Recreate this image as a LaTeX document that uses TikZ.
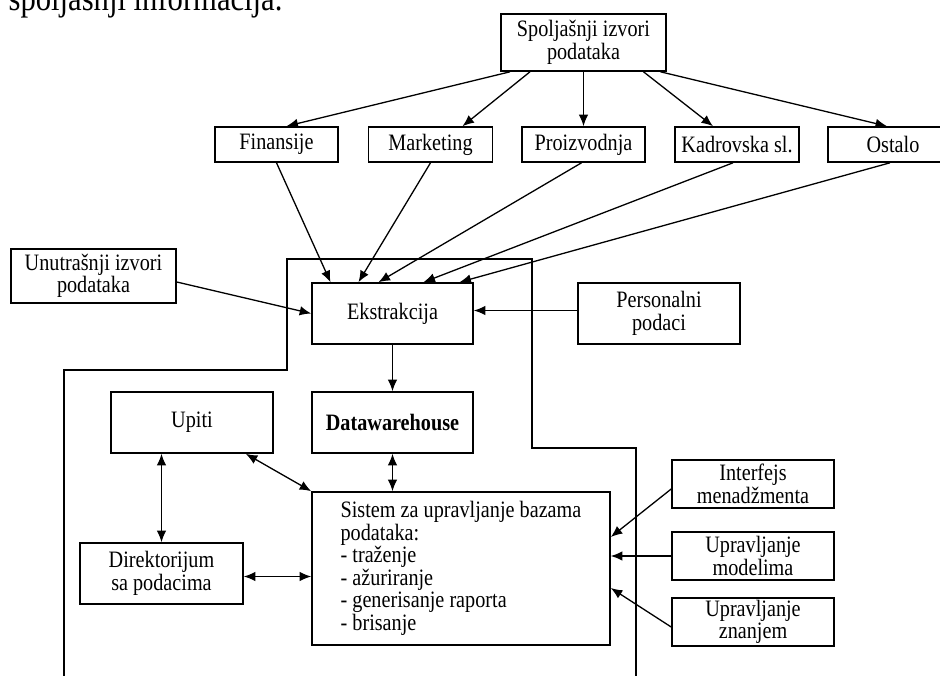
\documentclass[tikz,border=0pt]{standalone}
\usepackage{fontspec}
\setmainfont{Liberation Serif}[FakeStretch=0.86]
\usepackage{tikz}
\usetikzlibrary{arrows.meta, positioning, calc}

\newcommand{\dgfont}{\fontsize{23.5}{22.5}\selectfont}

\begin{document}
\begin{tikzpicture}[x=1pt, y=-1pt, >={Latex[length=11.5pt,width=9.5pt]}, line width=1.3pt, node distance=2cm]
			\tikzstyle{box}=[draw, line width=1.6pt, align=center, inner sep=2pt, font=\dgfont]
			\useasboundingbox (0,0) rectangle (940,675);
			
			\node[anchor=base west, font=\fontsize{35.6}{38}\selectfont, inner sep=0pt] (naslov) at (8,10) {spoljašnji informacija.};
			
			\node[box, minimum width=165pt, minimum height=57pt] (izvori) at (583.5,42.5) {Spoljašnji izvori\\podataka};
			\node[box, minimum width=123pt, minimum height=35pt] (proiz) [below of=izvori, node distance=102pt] {Proizvodnja};
			\node[box, minimum width=124pt, minimum height=35pt] (kadr) [right of=proiz, node distance=153.5pt] {Kadrovska sl.};
			\node[box, minimum width=130pt, minimum height=35pt] (ostalo) [right of=kadr, node distance=156pt] {Ostalo};
			\node[box, minimum width=124pt, minimum height=35pt] (mark) [left of=proiz, node distance=153pt] {Marketing};
			\node[box, minimum width=123pt, minimum height=35pt] (fin) [left of=mark, node distance=154pt] {Finansije};
			
			\node[box, minimum width=161pt, minimum height=61pt] (ekst) at (392.5,313.5) {Ekstrakcija};
			\node[box, minimum width=165pt, minimum height=54pt] (unutr) at (93.5,276) {Unutrašnji izvori\\podataka};
			\node[box, minimum width=162pt, minimum height=61pt] (pers) [right of=ekst, node distance=266.5pt] {Personalni\\podaci};
			\node[box, minimum width=161pt, minimum height=61pt] (dw) [below of=ekst, node distance=109pt] {\textbf{Datawarehouse}};
			\node[box, minimum width=162pt, minimum height=61pt] (upiti) [left of=dw, node distance=200.5pt] {Upiti};
			
			\node[box, minimum width=298pt, minimum height=153pt, align=left] (sis) at (461,568.5) {Sistem za upravljanje bazama\\podataka:\\- traženje\\- ažuriranje\\- generisanje raporta\\- brisanje};
			\node[box, minimum width=163pt, minimum height=61pt] (dir) at (161.5,573.5) {Direktorijum\\sa podacima};
			\node[box, minimum width=162pt, minimum height=48pt] (model) at (753,556) {Upravljanje\\modelima};
			\node[box, minimum width=162pt, minimum height=48pt] (intf) [above of=model, node distance=72pt] {Interfejs\\menadžmenta};
			\node[box, minimum width=162pt, minimum height=48pt] (znanje) [below of=model, node distance=66pt] {Upravljanje\\znanjem};
			
			% granica
			\draw[line width=1.2pt] (64,680) |- (287,370) |- (532,259) |- (636,448) -- (636,680);
			
			\path[->]
			([xshift=-73.5pt]izvori.south) edge ([xshift=10pt]fin.north)
			([xshift=-53.5pt]izvori.south) edge ([xshift=32pt]mark.north)
			(izvori.south) edge (proiz.north)
			([xshift=60pt]izvori.south) edge ([xshift=-24pt]kadr.north)
			([xshift=77pt]izvori.south) edge ([xshift=-6pt]ostalo.north);
			
			\path[->]
			(fin.south) edge ([xshift=-62pt]ekst.north)
			(mark.south) edge ([xshift=-34pt]ekst.north)
			([xshift=-2pt]proiz.south) edge ([xshift=-14pt]ekst.north)
			([xshift=-4pt]kadr.south) edge ([xshift=31pt]ekst.north)
			([xshift=-3pt]ostalo.south) edge ([xshift=67pt]ekst.north)
			([yshift=-6pt]unutr.east) edge (ekst.west)
			([yshift=3pt]pers.west) edge ([yshift=3pt]ekst.east)
			(ekst.south) edge (dw.north);
			
			\path[<->]
			(dw.south) edge (dw.south |- sis.north)
			([xshift=-28pt]upiti.south east) edge (sis.north west)
			(dir.north) edge (dir.north |- upiti.south)
			([yshift=-3pt]dir.east) edge ([yshift=-8pt]sis.west);
			
			\path[->]
			([yshift=-5pt]intf.west) edge ([yshift=31.5pt]sis.east)
			(model.west) edge (sis.east |- model.west)
			([yshift=-5pt]znanje.west) edge ([yshift=-19.5pt]sis.east);
		\end{tikzpicture}
\end{document}
